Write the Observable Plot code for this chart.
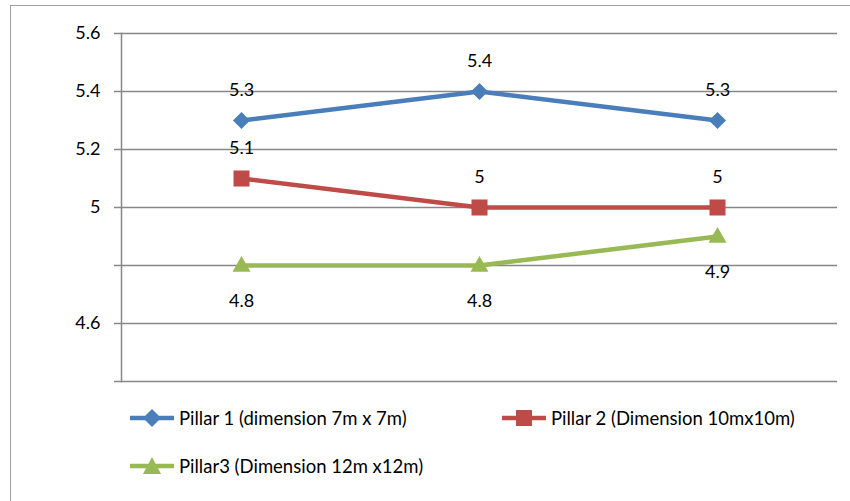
<!DOCTYPE html>
<html>
<head>
<meta charset="utf-8">
<script src="https://cdn.jsdelivr.net/npm/d3@7"></script>
<script src="https://cdn.jsdelivr.net/npm/@observablehq/plot@0.6"></script>
<style>
  body { margin: 0; background: #fff; font-family: Lato, "Open Sans", sans-serif; }
  #wrap { position: relative; width: 850px; height: 501px; overflow: hidden; }
  #border { position: absolute; left: 10px; top: 5px; width: 860px; height: 600px; border: 1.5px solid #a0a0a0; box-sizing: border-box; pointer-events: none; }
  #chart { position: absolute; left: 0; top: 0; }
  .leg { position: absolute; display: flex; align-items: center; font-size: 18.5px; line-height: 20px; color: #000; white-space: nowrap; }
  .leg svg { margin-right: 5px; }
</style>
</head>
<body>
<div id="wrap">
  <div id="border"></div>
  <div id="chart"></div>
</div>
<script>
const categories = ["1", "2", "3"];
const seriesNames = ["Pillar 1 (dimension 7m x 7m)", "Pillar 2 (Dimension 10mx10m)", "Pillar3 (Dimension 12m x12m)"];
const pillar1 = [5.3, 5.4, 5.3];
const pillar2 = [5.1, 5.0, 5.0];
const pillar3 = [4.8, 4.8, 4.9];
const yTicks = [4.4, 4.6, 4.8, 5.0, 5.2, 5.4, 5.6];
const yTickLabels = ["", "4.6", "", "5", "5.2", "5.4", "5.6"];
const colors = ["#4A7EBB", "#BE4B48", "#98B954"];
const symbols = ["diamond2", "square2", "triangle2"];

const allSeries = [pillar1, pillar2, pillar3];
const data = allSeries.flatMap((vals, s) => vals.map((v, i) => ({series: seriesNames[s], cat: categories[i], value: v, s})));
const bySeries = s => data.filter(d => d.s === s);
const fmt = v => String(+v.toFixed(2));

const chart = Plot.plot({
  width: 850,
  height: 395,
  marginLeft: 121,
  marginRight: 13,
  marginTop: 33,
  marginBottom: 14,
  style: {fontFamily: "Lato, 'Open Sans', sans-serif", fontSize: "18px", color: "#000", background: "transparent"},
  x: {type: "point", domain: categories, padding: 0.5, axis: null},
  y: {domain: [4.4, 5.6], ticks: yTicks, axis: null},
  marks: [
    Plot.gridY(yTicks, {stroke: "#878787", strokeOpacity: 1, strokeWidth: 1.5}),
    Plot.axisY(yTicks, {tickSize: 7, tickPadding: 14, stroke: "#878787", strokeWidth: 1.5, fontSize: 18, fill: "#000", label: null,
      tickFormat: v => yTickLabels[yTicks.findIndex(t => Math.abs(t - v) < 1e-9)]}),
    Plot.frame({anchor: "left", stroke: "#878787", strokeWidth: 1.5}),
    ...[0, 1, 2].map(s => Plot.line(bySeries(s), {x: "cat", y: "value", stroke: colors[s], strokeWidth: 4.5})),
    Plot.dot(bySeries(0), {x: "cat", y: "value", symbol: symbols[0], r: 7.7, fill: colors[0]}),
    Plot.dot(bySeries(1), {x: "cat", y: "value", symbol: symbols[1], r: 10.2, fill: colors[1]}),
    Plot.dot(bySeries(2), {x: "cat", y: "value", symbol: symbols[2], r: 8.6, fill: colors[2], dy: 1}),
    Plot.text(bySeries(0), {x: "cat", y: "value", text: d => fmt(d.value), dy: -30, fontSize: 18, fill: "#000"}),
    Plot.text(bySeries(1), {x: "cat", y: "value", text: d => fmt(d.value), dy: -30, fontSize: 18, fill: "#000"}),
    Plot.text(bySeries(2), {x: "cat", y: "value", text: d => fmt(d.value), dy: 36, fontSize: 18, fill: "#000"})
  ]
});
document.getElementById("chart").appendChild(chart);

// Legend
const legendPos = [{left: 130, top: 418}, {left: 502, top: 418}, {left: 130, top: 466}];
const wrap = document.getElementById("wrap");
const symPaths = [
  `<path d="M22,1 L31,10 L22,19 L13,10 Z" fill="${colors[0]}"/>`,
  `<rect x="14" y="2" width="16" height="16" fill="${colors[1]}"/>`,
  `<path d="M22,1 L31,18 L13,18 Z" fill="${colors[2]}"/>`
];
seriesNames.forEach((name, s) => {
  const div = document.createElement("div");
  div.className = "leg";
  div.style.left = legendPos[s].left + "px";
  div.style.top = (legendPos[s].top - 10) + "px";
  div.innerHTML = `<svg width="44" height="20"><line x1="0" x2="44" y1="10" y2="10" stroke="${colors[s]}" stroke-width="4.5"/>${symPaths[s]}</svg><span>${name}</span>`;
  wrap.appendChild(div);
});
</script>
</body>
</html>
